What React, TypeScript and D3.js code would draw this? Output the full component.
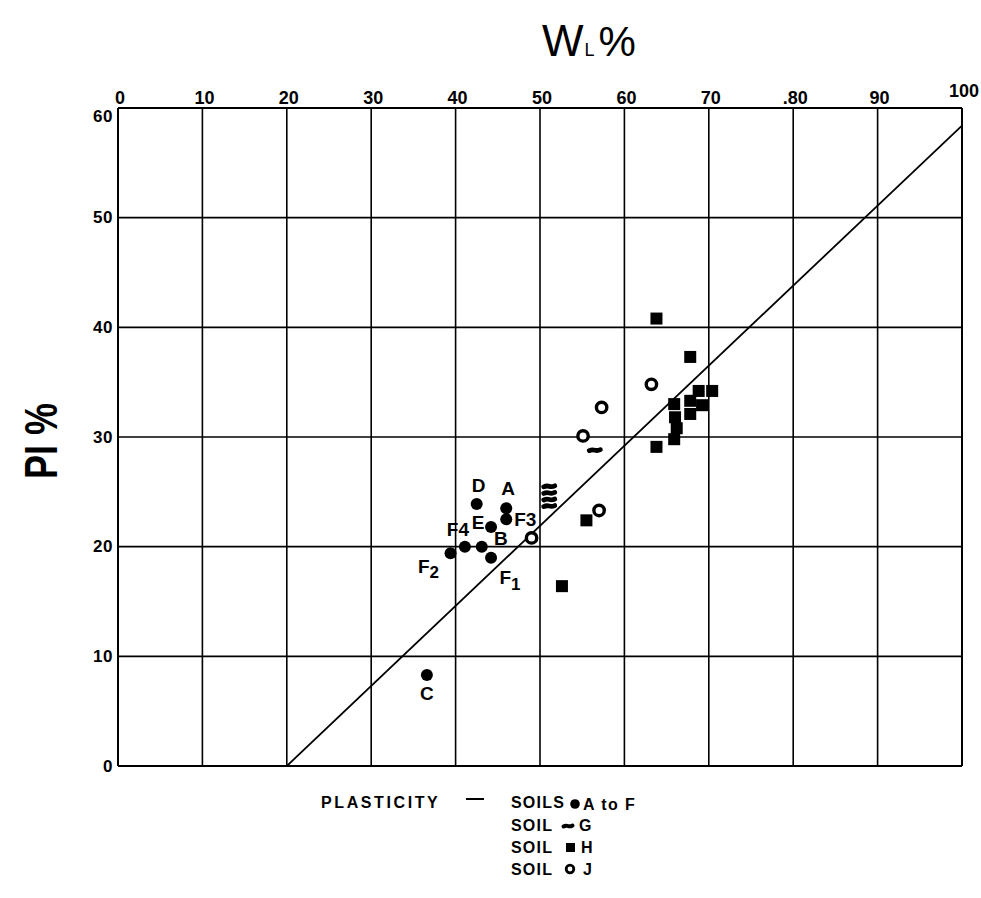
import React from 'react';
import * as d3 from 'd3';

// ---------------------------------------------------------------------------
// Data
// ---------------------------------------------------------------------------

const xTicks = [0, 10, 20, 30, 40, 50, 60, 70, 80, 90, 100];
const xTickLabels = ['0', '10', '20', '30', '40', '50', '60', '70', '.80', '90', '100'];
const yTicks = [0, 10, 20, 30, 40, 50, 60];
const yTickLabels = ['0', '10', '20', '30', '40', '50', '60'];

// A-line (plasticity line)
const aLine: [number, number][] = [
  [20, 0],
  [100, 58.4],
];

// soils A to F (filled dots)
const soilsAF = [
  { id: 'A', wl: 46.0, pi: 23.5 },
  { id: 'B', wl: 43.1, pi: 20.0 },
  { id: 'C', wl: 36.6, pi: 8.3 },
  { id: 'D', wl: 42.5, pi: 23.9 },
  { id: 'E', wl: 44.2, pi: 21.8 },
  { id: 'F1', wl: 44.2, pi: 19.0 },
  { id: 'F2', wl: 39.4, pi: 19.4 },
  { id: 'F3', wl: 46.0, pi: 22.5 },
  { id: 'F4', wl: 41.1, pi: 20.0 },
];

// soil G (wavy marks)
const soilG: [number, number][] = [
  [51.1, 25.5],
  [51.1, 24.9],
  [51.1, 24.3],
  [51.1, 23.7],
  [56.5, 28.8],
];

// soil H (filled squares)
const soilH: [number, number][] = [
  [63.8, 40.8],
  [67.8, 37.3],
  [68.8, 34.2],
  [70.4, 34.2],
  [67.8, 33.3],
  [65.9, 33.0],
  [69.2, 32.9],
  [66.0, 31.8],
  [67.8, 32.1],
  [66.2, 30.8],
  [65.9, 29.8],
  [63.8, 29.1],
  [55.5, 22.4],
  [52.6, 16.4],
];

// soil J (open circles)
const soilJ: [number, number][] = [
  [49.0, 20.8],
  [57.0, 23.3],
  [55.1, 30.1],
  [57.3, 32.7],
  [63.2, 34.8],
];

// ---------------------------------------------------------------------------
// Layout
// ---------------------------------------------------------------------------

const W = 981;
const H = 898;
const PLOT = { left: 118, right: 962, top: 108, bottom: 766 };
const FONT = '"Liberation Sans", Arial, Helvetica, sans-serif';

// label placement (pixel offsets of label centre from its dot)
const labelOffset: Record<string, [number, number]> = {
  A: [2, -20],
  B: [19, -8],
  C: [0, 19],
  D: [2, -18],
  E: [-13, -4],
  F1: [19, 20],
  F2: [-22, 13],
  F3: [19, 0],
  F4: [-7, -17],
};

export default function App() {
  const x = d3.scaleLinear().domain([0, 100]).range([PLOT.left, PLOT.right]);
  const y = d3.scaleLinear().domain([0, 60]).range([PLOT.bottom, PLOT.top]);

  const line = d3
    .line<[number, number]>()
    .x((d) => x(d[0]))
    .y((d) => y(d[1]));

  // short, slightly waved dash used for soil G
  const wave = (cx: number, cy: number, w = 10) =>
    `M${cx - w / 2},${cy + 0.5} q${w / 4},-1.4 ${w / 2},-0.5 t${w / 2},-0.5`;

  const renderLabel = (id: string) => {
    if (id === 'F1' || id === 'F2') {
      return (
        <>
          F
          <tspan dy={6} fontSize={17}>
            {id[1]}
          </tspan>
        </>
      );
    }
    return id;
  };

  return (
    <svg
      width={W}
      height={H}
      style={{ position: 'absolute', left: 0, top: 0, background: '#fff' }}
      fontFamily={FONT}
    >
      <rect x={0} y={0} width={W} height={H} fill="#fff" />

      {/* Title */}
      <text x={542} y={56} fontSize={44} fill="#000">
        W
        <tspan fontSize={18} dx={1}>
          L
        </tspan>
        <tspan fontSize={42} dx={4}>
          %
        </tspan>
      </text>

      {/* Y title */}
      <text
        transform={`translate(57,441) rotate(-90)`}
        textAnchor="middle"
        fontSize={46}
        fontWeight="bold"
        textLength={76}
        lengthAdjust="spacingAndGlyphs"
        fill="#000"
      >
        PI %
      </text>

      {/* Grid */}
      {xTicks.map((t) => (
        <line
          key={`gx${t}`}
          x1={x(t)}
          x2={x(t)}
          y1={PLOT.top}
          y2={PLOT.bottom}
          stroke="#000"
          strokeWidth={t === 0 || t === 100 ? 2 : 1.6}
        />
      ))}
      {yTicks.map((t) => (
        <line
          key={`gy${t}`}
          x1={PLOT.left}
          x2={PLOT.right}
          y1={y(t)}
          y2={y(t)}
          stroke="#000"
          strokeWidth={t === 0 || t === 60 ? 2 : 1.6}
        />
      ))}

      {/* Top axis labels */}
      {xTicks.map((t, i) => (
        <text
          key={`xl${t}`}
          x={x(t) + 2}
          y={t === 100 ? 97 : 104}
          textAnchor="middle"
          fontSize={18}
          fontWeight="bold"
          fill="#000"
        >
          {xTickLabels[i]}
        </text>
      ))}

      {/* Left axis labels */}
      {yTicks.map((t, i) => (
        <text
          key={`yl${t}`}
          x={PLOT.left - 5}
          y={y(t) + (t === 60 ? 8 : 0)}
          textAnchor="end"
          dominantBaseline="central"
          fontSize={17}
          fontWeight="bold"
          letterSpacing={0.5}
          fill="#000"
        >
          {yTickLabels[i]}
        </text>
      ))}

      {/* A-line */}
      <path d={line(aLine) ?? ''} fill="none" stroke="#000" strokeWidth={1.8} />

      {/* Soil G */}
      {soilG.map((d, i) => (
        <path
          key={`g${i}`}
          d={wave(x(d[0]), y(d[1]), 11)}
          fill="none"
          stroke="#000"
          strokeWidth={4.8}
          strokeLinecap="round"
        />
      ))}

      {/* Soil H */}
      {soilH.map((d, i) => (
        <rect
          key={`h${i}`}
          x={x(d[0]) - 6}
          y={y(d[1]) - 6}
          width={12}
          height={12}
          fill="#000"
        />
      ))}

      {/* Soil J */}
      {soilJ.map((d, i) => (
        <circle
          key={`j${i}`}
          cx={x(d[0])}
          cy={y(d[1])}
          r={5.2}
          fill="#fff"
          stroke="#000"
          strokeWidth={3.4}
        />
      ))}

      {/* Soils A to F */}
      {soilsAF.map((d) => (
        <g key={d.id}>
          <circle cx={x(d.wl)} cy={y(d.pi)} r={6} fill="#000" />
          <text
            x={x(d.wl) + labelOffset[d.id][0]}
            y={y(d.pi) + labelOffset[d.id][1]}
            textAnchor="middle"
            dominantBaseline="central"
            fontSize={19}
            fontWeight="bold"
            fill="#000"
          >
            {renderLabel(d.id)}
          </text>
        </g>
      ))}

      {/* Legend */}
      <g fontSize={16} fontWeight="bold" fill="#000">
        <text x={321} y={808} letterSpacing={2.6}>
          PLASTICITY
        </text>
        <line x1={466} x2={484} y1={799} y2={799} stroke="#000" strokeWidth={2} />
        <text x={511} y={808} letterSpacing={1.2}>
          SOILS
        </text>
        <circle cx={575} cy={804} r={4.8} fill="#000" />
        <text x={583} y={810} letterSpacing={1.4}>
          A to F
        </text>

        <text x={511} y={831} letterSpacing={1.2}>
          SOIL
        </text>
        <path
          d={wave(568, 826, 9)}
          fill="none"
          stroke="#000"
          strokeWidth={4}
          strokeLinecap="round"
        />
        <text x={579} y={831}>
          G
        </text>

        <text x={511} y={853} letterSpacing={1.2}>
          SOIL
        </text>
        <rect x={566} y={843} width={9} height={9} fill="#000" />
        <text x={581} y={853}>
          H
        </text>

        <text x={511} y={875} letterSpacing={1.2}>
          SOIL
        </text>
        <circle cx={570} cy={869} r={3.8} fill="#fff" stroke="#000" strokeWidth={2.8} />
        <text x={583} y={875}>
          J
        </text>
      </g>
    </svg>
  );
}
